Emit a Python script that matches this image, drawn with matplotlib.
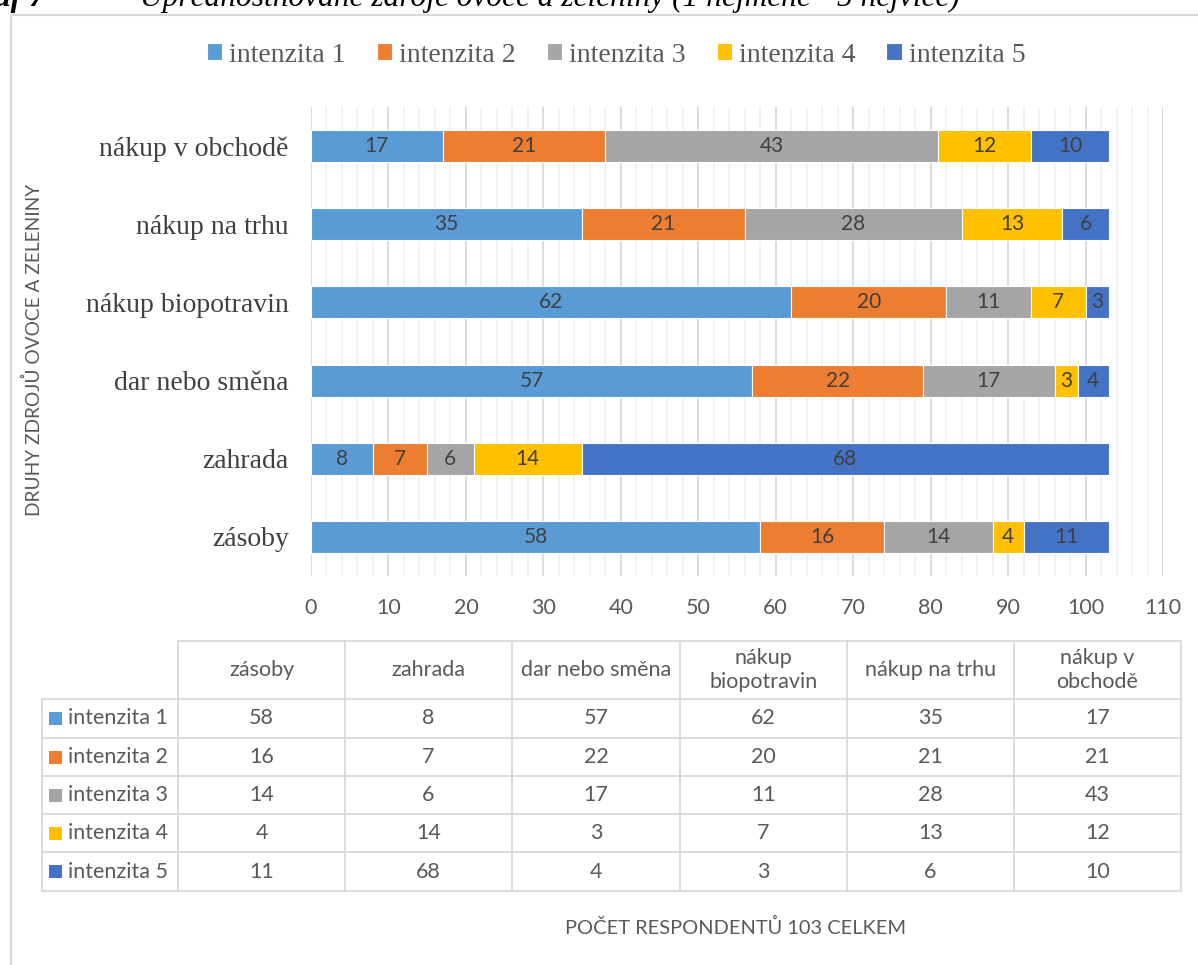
import matplotlib
matplotlib.use("Agg")
import matplotlib.pyplot as plt
from matplotlib.patches import Rectangle
from matplotlib.ticker import MultipleLocator

# ---------------- data ----------------
categories = ['zásoby', 'zahrada', 'dar nebo směna', 'nákup biopotravin', 'nákup na trhu', 'nákup v obchodě']
table_headers = ['zásoby', 'zahrada', 'dar nebo směna', 'nákup\nbiopotravin', 'nákup na trhu', 'nákup v\nobchodě']
series_names = ['intenzita 1', 'intenzita 2', 'intenzita 3', 'intenzita 4', 'intenzita 5']
int1 = [58, 8, 57, 62, 35, 17]
int2 = [16, 7, 22, 20, 21, 21]
int3 = [14, 6, 17, 11, 28, 43]
int4 = [4, 14, 3, 7, 13, 12]
int5 = [11, 68, 4, 3, 6, 10]
series = [int1, int2, int3, int4, int5]
x_ticks = [0, 10, 20, 30, 40, 50, 60, 70, 80, 90, 100, 110]
y_label = 'DRUHY ZDROJŮ OVOCE A ZELENINY'
x_label = 'POČET RESPONDENTŮ 103 CELKEM'
title_bold = 'Graf 7'
title_dash = '–'
title_rest = 'Upřednostňované zdroje ovoce a zeleniny (1 nejméně - 5 nejvíce)'

colors = ['#5B9BD5', '#ED7D31', '#A5A5A5', '#FFC000', '#4472C4']
SERIF = 'Liberation Serif'
SANS = 'Lato'
GREY = '#595959'
DARK = '#404040'

W, H = 1198, 965
fig = plt.figure(figsize=(W / 100, H / 100), dpi=100)
fig.patch.set_facecolor('white')

def fx(px):
    return px / W

def fy(py):
    return 1 - py / H

# main axes
ax = fig.add_axes([fx(311), fy(576), fx(1163) - fx(311), fy(107) - fy(576)])
ax.set_xlim(0, 110)
ax.set_ylim(-0.5, len(categories) - 0.5)
ax.xaxis.set_major_locator(MultipleLocator(10))
ax.xaxis.set_minor_locator(MultipleLocator(2))
ax.grid(which='major', axis='x', color='#D9D9D9', lw=1.3)
ax.grid(which='minor', axis='x', color='#F0F0F0', lw=1.3)
ax.set_axisbelow(True)
for s in ax.spines.values():
    s.set_visible(False)
ax.tick_params(axis='both', which='both', length=0)
ax.set_xticks(x_ticks)
ax.set_xticklabels([str(t) for t in x_ticks], fontfamily=SANS, fontsize=15.5, color=GREY)
ax.tick_params(axis='x', pad=16)
ax.set_yticks(range(len(categories)))
ax.set_yticklabels(categories, fontfamily=SERIF, fontsize=20, color=DARK)
ax.tick_params(axis='y', pad=16)

left = [0] * len(categories)
handles = []
for name, vals, c in zip(series_names, series, colors):
    bars = ax.barh(range(len(categories)), vals, left=left, height=0.41, color=c,
                   edgecolor='white', linewidth=0.8, label=name)
    handles.append(bars)
    for i, (v, l) in enumerate(zip(vals, left)):
        ax.text(l + v / 2, i, str(v), ha='center', va='center', fontfamily=SANS,
                fontsize=15, color=DARK)
    left = [a + b for a, b in zip(left, vals)]

# legend
leg = fig.legend(handles=handles, labels=series_names, loc='center', ncol=5,
                 bbox_to_anchor=(fx(616), fy(55)), frameon=False,
                 prop={'family': SERIF, 'size': 20}, handlelength=0.55, handleheight=0.55,
                 handletextpad=0.25, columnspacing=1.12)
for t in leg.get_texts():
    t.set_color(GREY)

# overlay for frame, table, labels
ov = fig.add_axes([0, 0, 1, 1])
ov.set_xlim(0, W)
ov.set_ylim(H, 0)
ov.axis('off')
ov.patch.set_visible(False)
ov.add_patch(Rectangle((11, 15), 1300, 1100, fill=False, edgecolor='#D9D9D9', lw=1.5))

# title (clipped at top)
ov.text(45, 6, title_bold, fontfamily=SERIF, fontsize=23, fontstyle='italic',
        fontweight='bold', color='black', va='baseline', ha='right')
ov.text(95, 6, title_dash, fontfamily=SERIF, fontsize=23, fontstyle='italic',
        color='black', va='baseline', ha='center')
ov.text(140, 6, title_rest, fontfamily=SERIF, fontsize=22.6, fontstyle='italic',
        color='black', va='baseline', ha='left')

# axis labels
ov.text(33, 350, y_label, rotation=90, ha='center', va='center', fontfamily=SANS,
        fontsize=13.8, color=GREY)
ov.text(736, 927, x_label, ha='center', va='center', fontfamily=SANS, fontsize=14.4, color=GREY)

# data table
col_x = [42, 178, 345, 512, 680, 847, 1014, 1181]
row_y = [641, 699, 738, 776, 814, 852, 891]
lc = '#D9D9D9'
lw = 1.3
ov.plot([col_x[1], col_x[-1]], [row_y[0], row_y[0]], color=lc, lw=lw)
for yy in row_y[1:]:
    ov.plot([col_x[0], col_x[-1]], [yy, yy], color=lc, lw=lw)
ov.plot([col_x[0], col_x[0]], [row_y[1], row_y[-1]], color=lc, lw=lw)
for xx in col_x[1:]:
    ov.plot([xx, xx], [row_y[0], row_y[-1]], color=lc, lw=lw)

TFS = 15.5
for j, hdr in enumerate(table_headers):
    cx = (col_x[j + 1] + col_x[j + 2]) / 2
    cy = (row_y[0] + row_y[1]) / 2
    ov.text(cx, cy, hdr, ha='center', va='center', fontfamily=SANS, fontsize=TFS,
            color=GREY, linespacing=1.3)

for i, (name, vals, c) in enumerate(zip(series_names, series, colors)):
    cy = (row_y[i + 1] + row_y[i + 2]) / 2
    ov.add_patch(Rectangle((49, cy - 6.5), 13, 13, color=c, lw=0))
    ov.text(68, cy, name, ha='left', va='center', fontfamily=SANS, fontsize=TFS, color=GREY)
    for j, v in enumerate(vals):
        cx = (col_x[j + 1] + col_x[j + 2]) / 2
        ov.text(cx, cy, str(v), ha='center', va='center', fontfamily=SANS, fontsize=TFS,
                color=GREY)

fig.savefig('out.png', dpi=100)
